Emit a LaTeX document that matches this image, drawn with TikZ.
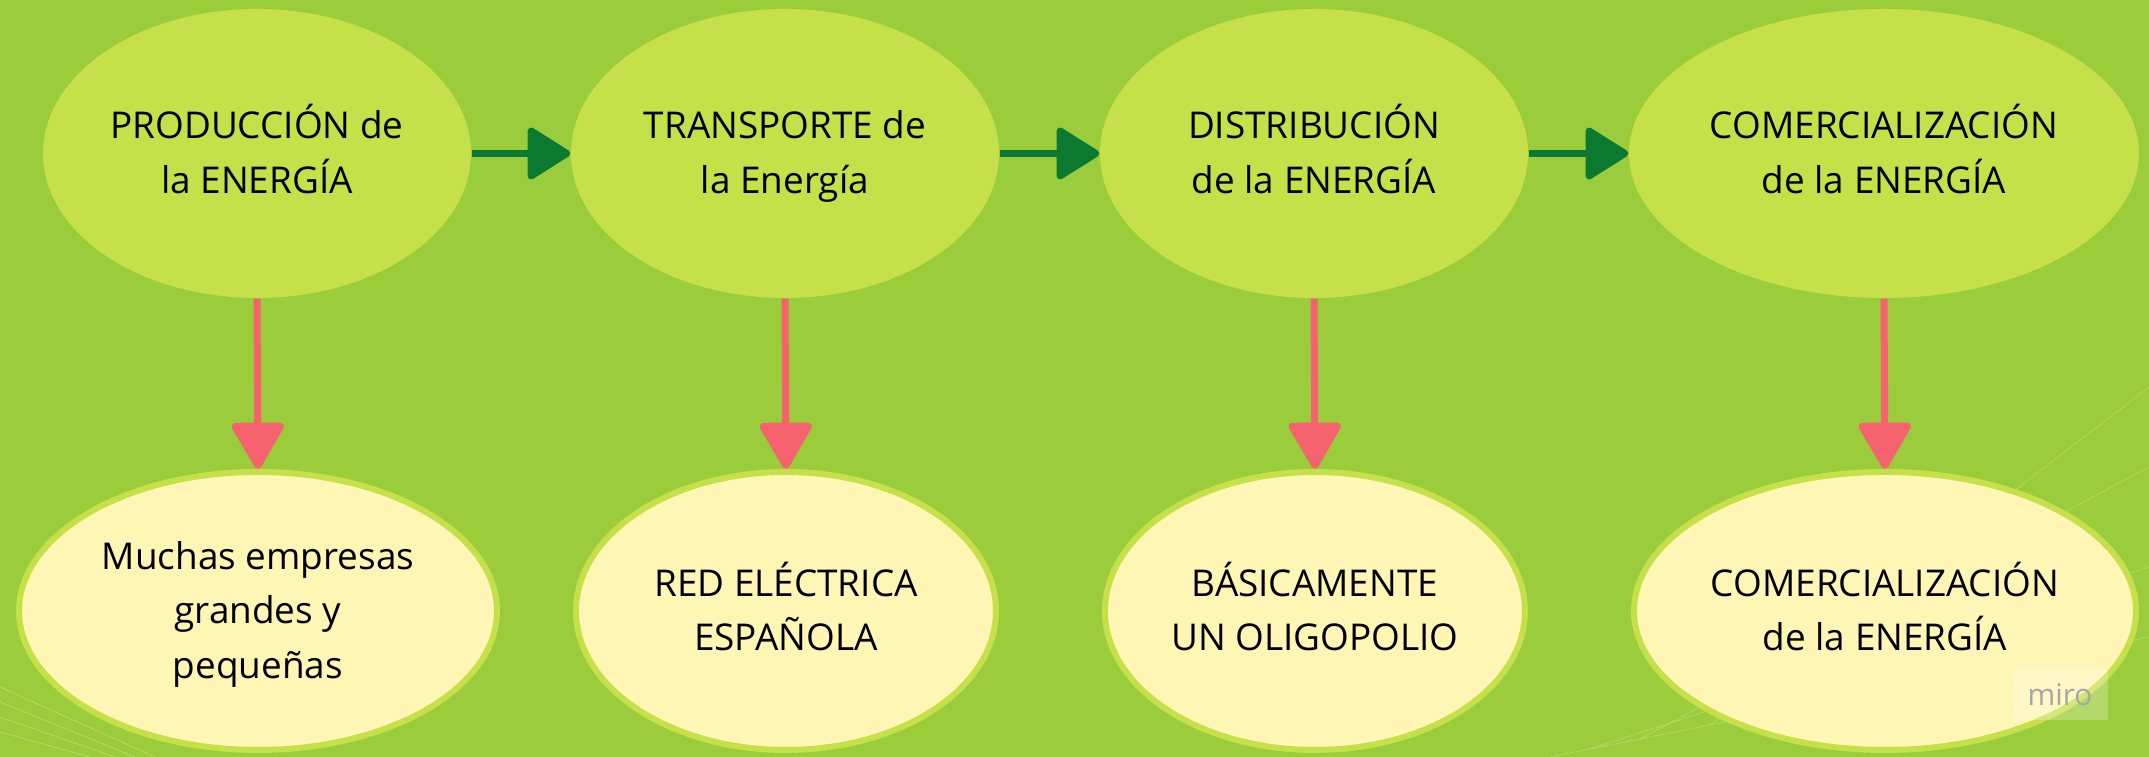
\documentclass[tikz,border=0pt]{standalone}
\usepackage{fontspec}
\setmainfont{Open Sans}
\usepackage{tikz}
\usepackage{xcolor}
\usetikzlibrary{shapes.geometric, arrows.meta}

\definecolor{bgreen}{HTML}{9BCC3B}
\definecolor{topfill}{HTML}{C6E04A}
\definecolor{botfill}{HTML}{FFF5B4}
\definecolor{flowgreen}{HTML}{0B7A30}
\definecolor{downpink}{HTML}{F5646E}

\begin{document}
\begin{tikzpicture}[
  every node/.style={font=\fontsize{10.5}{15.5}\selectfont},
  topnode/.style={ellipse, fill=topfill, inner sep=0pt, align=center,
    minimum width=4.28cm, minimum height=2.89cm},
  botnode/.style={ellipse, fill=botfill, draw=topfill, line width=0.06cm,
    inner sep=0pt, align=center, minimum width=4.2cm, minimum height=2.78cm},
  flow/.style={flowgreen, line width=0.07cm,
    -{Triangle[length=0.46cm, width=0.56cm, round]}},
  down/.style={downpink, line width=0.07cm,
    -{Triangle[length=0.5cm, width=0.56cm, round]}}
]
% Background
\fill[bgreen] (0,0) rectangle (21.49,7.57);
\useasboundingbox (0,0) rectangle (21.49,7.57);
% Faint background streaks
\foreach \a/\b in {0.25/0.9, 0.4/1.15, 0.55/1.35, 0.7/1.55} {
  \draw[white, opacity=0.3, very thin] (0,\a) -- (\b,0);
}
\foreach \a/\b in {1.2/0.0, 1.9/0.4, 2.9/0.9, 3.7/1.6} {
  \draw[white, opacity=0.25, very thin] (15.5+\b,\b*0.2) -- (21.49,\a);
}

% Stages (upper row)
\node[topnode] (p1) at (2.57, 6.035) {\vphantom{Ó}PRODUCCIÓN de\\la ENERGÍA\vphantom{g}};
\node[topnode] (p2) at (7.85, 6.035) {\vphantom{Ó}TRANSPORTE de\\la Energía\vphantom{g}};
\node[topnode] (p3) at (13.14, 6.035) {\vphantom{Ó}DISTRIBUCIÓN\\de la ENERGÍA\vphantom{g}};
\node[topnode, minimum width=5.1cm] (p4) at (18.84, 6.035) {\vphantom{Ó}COMERCIALIZACIÓN\\de la ENERGÍA\vphantom{g}};

% Market structure (lower row)
\node[botnode, minimum width=4.78cm] (m1) at (2.58, 1.46) {\vphantom{Ó}Muchas empresas\\grandes y\\pequeñas\vphantom{g}};
\node[botnode] (m2) at (7.86, 1.46) {\vphantom{Ó}RED ELÉCTRICA\\ESPAÑOLA\vphantom{g}};
\node[botnode] (m3) at (13.15, 1.46) {\vphantom{Ó}BÁSICAMENTE\\UN OLIGOPOLIO\vphantom{g}};
\node[botnode, minimum width=5.02cm] (m4) at (18.85, 1.46) {\vphantom{Ó}COMERCIALIZACIÓN\\de la ENERGÍA\vphantom{g}};

% Arrows: chain of stages
\foreach \i/\j in {1/2, 2/3, 3/4} {
  \draw[flow] (p\i) -- (p\j);
}
% Arrows: stage to its market
\foreach \i in {1,...,4} {
  \draw[down] (p\i.south) -- (m\i.north);
}

% Watermark
\node[fill=white, fill opacity=0.25, text opacity=1, text=gray!70,
  font=\fontsize{8.5}{10}\selectfont, minimum width=0.95cm, minimum height=0.5cm,
  inner sep=0pt] (wm) at (20.6, 0.62) {miro};

\end{tikzpicture}
\end{document}
